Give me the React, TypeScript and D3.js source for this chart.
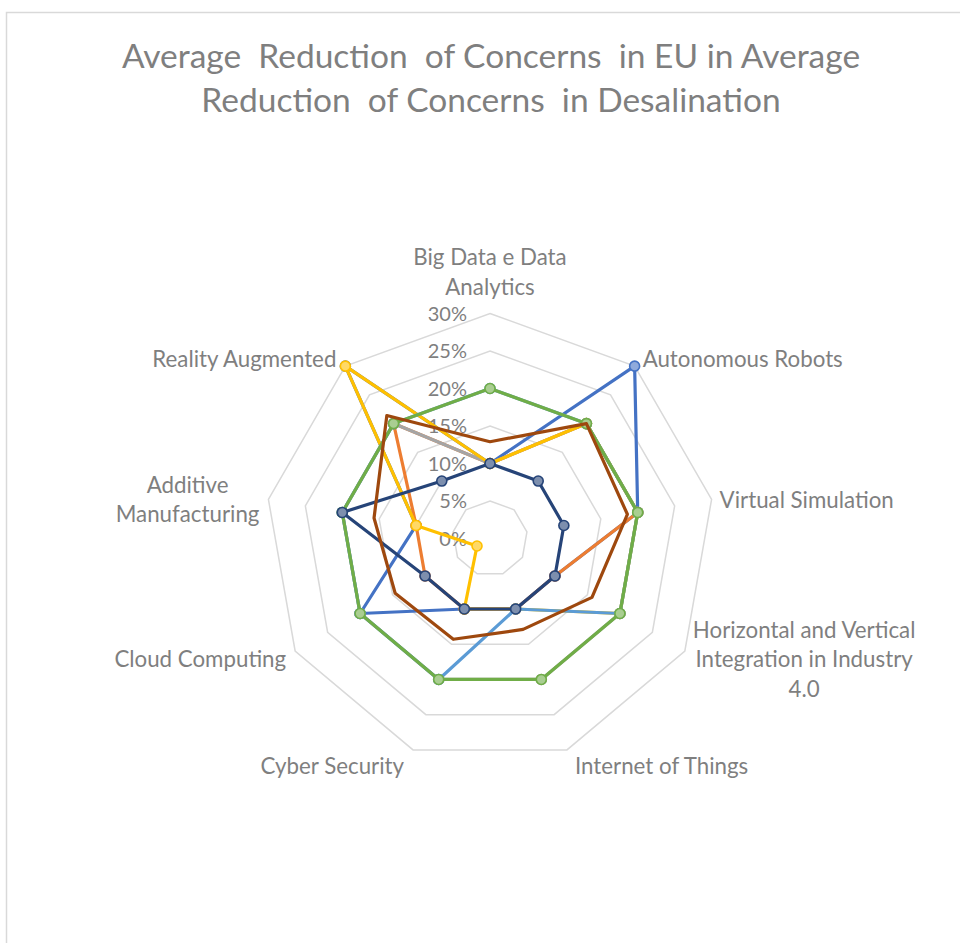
import React, { useEffect, useRef } from "react";
import * as d3 from "d3";

// Technology categories (one radar spoke each), clockwise from the top
const categories = [
  "Big Data e Data Analytics",
  "Autonomous Robots",
  "Virtual Simulation",
  "Horizontal and Vertical Integration in Industry 4.0",
  "Internet of Things",
  "Cyber Security",
  "Cloud Computing",
  "Additive Manufacturing",
  "Reality Augmented",
];

// How each category label wraps around the plot
const categoryLines = [
  ["Big Data e Data", "Analytics"],
  ["Autonomous Robots"],
  ["Virtual Simulation"],
  ["Horizontal and Vertical", "Integration in Industry", "4.0"],
  ["Internet of Things"],
  ["Cyber Security"],
  ["Cloud Computing"],
  ["Additive", "Manufacturing"],
  ["Reality Augmented"],
];

// Reduction of concerns per series (fractions)
const series1 = [0.1, 0.3, 0.2, 0.1, 0.1, 0.1, 0.2, 0.1, 0.3];
const series2 = [0.1, 0.2, 0.2, 0.1, 0.1, 0.1, 0.1, 0.1, 0.2];
const series3 = [0.1, 0.2, 0.2, 0.2, 0.2, 0.2, 0.2, 0.2, 0.2];
const series4 = [0.1, 0.2, 0.2, 0.2, 0.1, 0.1, 0.02, 0.1, 0.3];
const series5 = [0.2, 0.2, 0.2, 0.2, 0.1, 0.2, 0.2, 0.2, 0.2];
const series6 = [0.2, 0.2, 0.2, 0.2, 0.2, 0.2, 0.2, 0.2, 0.2];
const series7 = [0.1, 0.1, 0.1, 0.1, 0.1, 0.1, 0.1, 0.2, 0.1];
// Average of the seven series above
const average = [0.129, 0.2, 0.186, 0.157, 0.129, 0.143, 0.146, 0.157, 0.214];

const seriesValues = [series1, series2, series3, series4, series5, series6, series7, average];
const seriesColors = ["#4472C4", "#ED7D31", "#A5A5A5", "#FFC000", "#5B9BD5", "#70AD47", "#264478", "#9E480E"];
const seriesMarkers = [true, true, true, true, true, true, true, false];

const tickValues = [0, 0.05, 0.1, 0.15, 0.2, 0.25, 0.3];
const tickLabels = ["0%", "5%", "10%", "15%", "20%", "25%", "30%"];

const titleLines = [
  "Average  Reduction  of Concerns  in EU in Average",
  "Reduction  of Concerns  in Desalination",
];

const W = 960;
const H = 943;
const CX = 490;
const CY = 538.5;
const RMAX = 225;
const FONT = "Lato, 'Open Sans', sans-serif";
const TEXT = "#7f7f7f";
const GRID = "#d9d9d9";

export default function App() {
  const ref = useRef<SVGSVGElement | null>(null);

  useEffect(() => {
    const svg = d3.select(ref.current);
    svg.selectAll("*").remove();

    // chart area frame
    svg
      .append("rect")
      .attr("x", 6.5)
      .attr("y", 12.5)
      .attr("width", W)
      .attr("height", H)
      .attr("fill", "#fff")
      .attr("stroke", GRID)
      .attr("stroke-width", 1.5);

    // title
    svg
      .append("g")
      .selectAll("text")
      .data(titleLines)
      .join("text")
      .attr("x", 491)
      .attr("y", (_, i) => 68 + i * 44)
      .attr("text-anchor", "middle")
      .attr("font-family", FONT)
      .attr("font-size", 33.5)
      .attr("fill", TEXT)
      .style("white-space", "pre")
      .text((d) => d);

    const r = d3.scaleLinear().domain([0, 0.3]).range([0, RMAX]);
    const n = categories.length;
    const angle = (i: number) => (i * 2 * Math.PI) / n;

    const plot = svg.append("g").attr("transform", `translate(${CX},${CY})`);

    // concentric grid polygons
    const ring = d3
      .lineRadial<number>()
      .angle((_, i) => angle(i))
      .radius((d) => r(d))
      .curve(d3.curveLinearClosed);

    plot
      .append("g")
      .selectAll("path")
      .data(tickValues.filter((t) => t > 0))
      .join("path")
      .attr("d", (t) => ring(categories.map(() => t)))
      .attr("fill", "none")
      .attr("stroke", GRID)
      .attr("stroke-width", 1.5);

    // radial value labels along the top spoke
    plot
      .append("g")
      .selectAll("text")
      .data(tickValues)
      .join("text")
      .attr("x", -23)
      .attr("y", (t) => -r(t))
      .attr("dy", "0.35em")
      .attr("text-anchor", "end")
      .attr("font-family", FONT)
      .attr("font-size", 20)
      .attr("fill", TEXT)
      .text((_, i) => tickLabels[i]);

    // category labels placed just outside the outer ring
    const lineH = 29.5;
    const labelSize = 22.3;
    categoryLines.forEach((lines, i) => {
      const a = angle(i);
      const sa = Math.sin(a);
      const ca = Math.cos(a);
      const tx = sa * r(0.3);
      const ty = -ca * r(0.3);
      const g = plot.append("g");
      const texts = g
        .selectAll("text")
        .data(lines)
        .join("text")
        .attr("text-anchor", "middle")
        .attr("font-family", FONT)
        .attr("font-size", labelSize)
        .attr("fill", TEXT)
        .text((d) => d);
      let w = 0;
      texts.each(function () {
        w = Math.max(w, (this as SVGTextElement).getComputedTextLength());
      });
      let bx: number;
      if (sa > 0.3) bx = tx + 8 + w / 2;
      else if (sa < -0.3) bx = tx - 9 - w / 2;
      else bx = tx;
      const blockH = lines.length * lineH;
      let topY: number;
      if (ca > 0.9) topY = ty - 19 - (lines.length - 1) * lineH - 21;
      else if (ca < -0.9) topY = ty + 3;
      else topY = ty - 12 * ca - blockH / 2 + 4;
      texts
        .attr("x", bx)
        .attr("y", (_, k) => topY + k * lineH + 21);
    });

    // series polylines with markers
    const line = d3
      .lineRadial<number>()
      .angle((_, i) => angle(i))
      .radius((d) => r(d))
      .curve(d3.curveLinearClosed);

    seriesValues.forEach((vals, s) => {
      const color = seriesColors[s];
      const g = plot.append("g");
      g.append("path")
        .attr("d", line(vals))
        .attr("fill", "none")
        .attr("stroke", color)
        .attr("stroke-width", 3.2)
        .attr("stroke-linejoin", "round");
      if (seriesMarkers[s]) {
        const fill = d3.interpolateRgb(color, "#ffffff")(0.4);
        g.selectAll("circle")
          .data(vals)
          .join("circle")
          .attr("cx", (d, i) => Math.sin(angle(i)) * r(d))
          .attr("cy", (d, i) => -Math.cos(angle(i)) * r(d))
          .attr("r", 5)
          .attr("fill", fill)
          .attr("stroke", color)
          .attr("stroke-width", 1.6);
      }
    });
  }, []);

  return (
    <svg
      ref={ref}
      width={W}
      height={H}
      style={{ position: "absolute", left: 0, top: 0, display: "block" }}
    />
  );
}
